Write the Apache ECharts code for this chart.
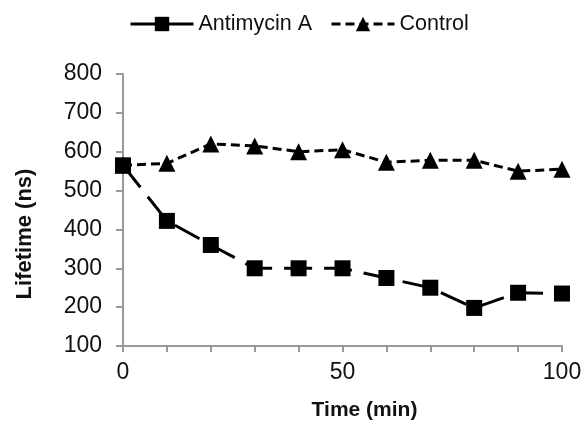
<!DOCTYPE html>
<html><head><meta charset="utf-8">
<script src="https://cdn.jsdelivr.net/npm/echarts@6/dist/echarts.min.js"></script>
<style>html,body{margin:0;padding:0;background:#fff}#c{width:585px;height:422px}</style>
</head><body><div id="c"></div>
<script>
const times = [0, 10, 20, 30, 40, 50, 60, 70, 80, 90, 100];
const antimycin = [565, 422, 360, 300, 300, 300, 275, 250, 198, 237, 235];
const control = [565, 570, 620, 615, 600, 605, 573, 578, 578, 550, 555];
const seriesNames = ['Antimycin A', 'Control'];

const chart = echarts.init(document.getElementById('c'));
const font = 'Liberation Sans, Arial, sans-serif';
chart.setOption({
  animation: false,
  backgroundColor: '#fff',
  textStyle: {fontFamily: font},
  legend: {
    top: 8, left: 124,
    itemWidth: 63, itemHeight: 18, itemGap: 18,
    lineStyle: {width: 3},
    textStyle: {fontSize: 21.5, color: '#111', fontFamily: font},
    data: [
      {name: seriesNames[0], lineStyle: {type: 'solid', width: 3}},
      {name: seriesNames[1], lineStyle: {width: 3}}
    ]
  },
  grid: {left: 123, right: 23, top: 74, bottom: 76, outerBoundsMode: 'none', containLabel: false},
  xAxis: {
    type: 'value', min: 0, max: 100, interval: 10,
    name: 'Time (min)', nameLocation: 'middle', nameGap: 54,
    nameTextStyle: {fontSize: 21, fontWeight: 'bold', color: '#111', fontFamily: font, padding: [0, 0, 0, 44]},
    axisLine: {lineStyle: {color: '#999', width: 2}},
    axisTick: {lineStyle: {color: '#999', width: 2}, length: 6},
    axisLabel: {fontSize: 23, color: '#111', margin: 15,
      formatter: v => (v % 50 === 0 ? String(v) : '')},
    splitLine: {show: false}
  },
  yAxis: {
    type: 'value', min: 100, max: 800, interval: 100,
    name: 'Lifetime (ns)', nameLocation: 'middle', nameGap: 87, nameRotate: 90,
    nameTextStyle: {fontSize: 22, fontWeight: 'bold', color: '#111', fontFamily: font, padding: [0, 48, 0, 0]},
    axisLine: {show: true, lineStyle: {color: '#999', width: 2}},
    axisTick: {show: true, lineStyle: {color: '#999', width: 2}, length: 7},
    axisLabel: {fontSize: 23, color: '#111', margin: 21},
    splitLine: {show: false}
  },
  series: [
    {
      name: seriesNames[0], type: 'line',
      data: times.map((t, i) => [t, antimycin[i]]),
      symbol: 'rect', symbolSize: 16,
      itemStyle: {color: '#000'},
      lineStyle: {color: '#000', width: 3, type: [28, 12]}
    },
    {
      name: seriesNames[1], type: 'line',
      data: times.map((t, i) => [t, control[i]]),
      symbol: 'triangle', symbolSize: 17,
      itemStyle: {color: '#000'},
      lineStyle: {color: '#000', width: 3, type: [9, 5]}
    }
  ]
});
</script></body></html>
